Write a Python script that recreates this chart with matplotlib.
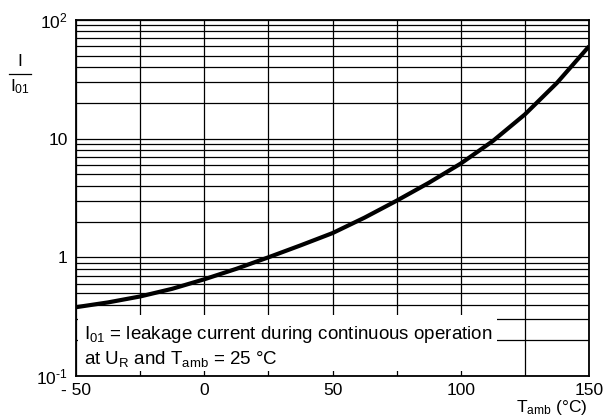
import matplotlib
matplotlib.use('Agg')
import matplotlib.pyplot as plt
from matplotlib.patches import Rectangle
from matplotlib.lines import Line2D
from matplotlib.ticker import FixedLocator, NullFormatter

plt.rcParams['font.family'] = ['Liberation Sans', 'DejaVu Sans']
plt.rcParams['mathtext.fontset'] = 'custom'
plt.rcParams['mathtext.rm'] = 'Liberation Sans'
plt.rcParams['mathtext.it'] = 'Liberation Sans'

# curve
temps = [-50, -37.5, -25, -12.5, 0, 12.5, 25, 37.5, 50, 62.5, 75, 87.5, 100, 112.5, 125, 137.5, 150]
ratio = [0.38, 0.417, 0.468, 0.543, 0.653, 0.80, 1.0, 1.26, 1.6, 2.16, 3.0, 4.24, 6.17, 9.55, 16.0, 29.5, 60]

x_ticks = [-50, 0, 50, 100, 150]
x_labels = ['- 50', '0', '50', '100', '150']
x_grid = [-50, -25, 0, 25, 50, 75, 100, 125, 150]
y_ticks = [0.1, 1, 10, 100]
y_labels = ['10$^{\\mathregular{\u2010}\\mathregular{1}}$', '1', '10', '10$^{\\mathregular{2}}$']

fig = plt.figure(figsize=(6.08, 4.20), dpi=100)
ax = fig.add_axes([76 / 608, 44 / 420, 513 / 608, 356 / 420])

ax.set_yscale('log')
ax.set_xlim(-50, 150)
ax.set_ylim(0.1, 100)

ax.set_xticks(x_ticks)
ax.set_xticklabels(x_labels)
ax.xaxis.set_minor_locator(FixedLocator(x_grid))
ax.set_yticks(y_ticks)
ax.set_yticklabels(y_labels)
ax.yaxis.set_minor_formatter(NullFormatter())
ax.tick_params(which='both', length=0, labelsize=12.5)
ax.tick_params(axis='x', pad=5)
ax.tick_params(axis='y', pad=6)

ax.grid(True, which='both', color='black', linewidth=0.9)
ax.set_axisbelow(True)
for s in ax.spines.values():
    s.set_linewidth(1.3)

ax.plot(temps, ratio, color='black', linewidth=3.0, zorder=3, solid_capstyle='butt')

# white note box covering part of the grid
ax.add_patch(Rectangle((-49.2, 0.110), 163.3, 0.327 - 0.110, facecolor='white',
                       edgecolor='none', zorder=2))
ax.text(-46.9, 0.222, 'I$_{01}$ = leakage current during continuous operation',
        fontsize=13.5, va='center', ha='left', zorder=4)
ax.text(-46.9, 0.140, 'at U$_\\mathregular{R}$ and T$_{\\mathregular{amb}}$ = 25 \u00b0C',
        fontsize=13.5, va='center', ha='left', zorder=4)

# y label as a fraction
fig.text(20 / 608, 1 - 62 / 420, 'I', fontsize=12.5, ha='center', va='center')
fig.add_artist(Line2D([9 / 608, 31 / 608], [1 - 74 / 420, 1 - 74 / 420],
                      color='black', linewidth=0.9))
fig.text(20 / 608, 1 - 87 / 420, 'I$_{01}$', fontsize=12.5, ha='center', va='center')

fig.text(588 / 608, 1 - 412 / 420, 'T$_{\\mathregular{amb}}$ (\u00b0C)', fontsize=12.5,
         ha='right', va='baseline')

fig.savefig('out.png', dpi=100)
